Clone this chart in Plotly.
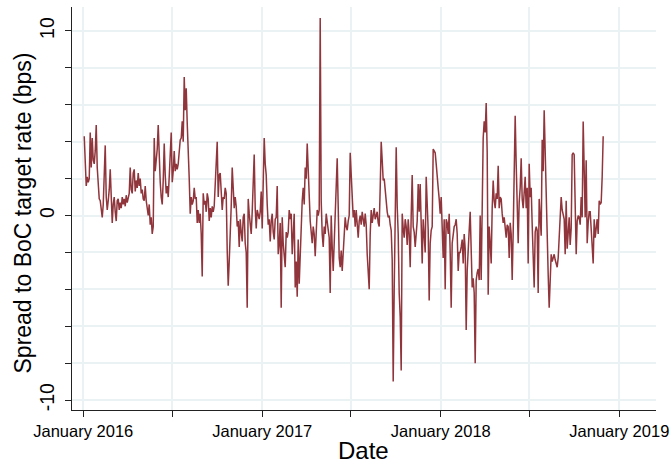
import pandas as pd
import plotly.graph_objects as go

start_date = "2016-01-03"
end_date = "2018-11-29"

spread_bps = [
    4.3, 2.6, 1.6, 2.1, 1.8, 2.0, 4.5, 2.6, 4.2, 3.0, 2.8, 3.5, 4.9, 2.6, 1.5, 0.9, 0.8, 0.3, -0.1, 0.6,
    2.0, 3.8, 1.0, 0.3, 0.8, 1.4, 2.5, 0.5, -0.4, 0.6, 1.0, 0.2, -0.3, 0.8, 0.9, 0.3, 0.7, 0.4, 1.0, 0.6,
    0.9, 0.5, 1.1, 0.7, 0.9, 1.2, 2.6, 1.4, 1.2, 2.3, 2.5, 1.3, 1.9, 1.5, 2.3, 1.6, 2.0, 1.2, 1.4, 0.9,
    0.8, 1.6, 0.8, 0.2, 0.0, 0.6, -0.5, -0.1, -1.0, -0.6, 4.2, 2.4, 3.1, 3.6, 4.9, 3.1, 1.8, 1.0, 0.6, 1.9,
    3.9, 2.2, 1.2, 1.6, 1.0, 2.1, 3.2, 4.5, 1.8, 2.4, 3.5, 2.4, 2.8, 2.5, 2.8, 3.4, 4.1, 4.2, 5.1, 4.0,
    7.5, 5.7, 6.9, 5.0, 3.9, 2.0, 0.1, 1.0, 0.6, 0.8, 1.5, 0.9, 1.0, -0.4, 0.3, -0.4, 0.1, -1.0, -3.3, 1.2,
    0.6, 0.8, 0.2, 1.2, 0.9, -0.3, 0.4, -0.1, 0.5, 0.2, 0.5, 1.5, 3.0, 4.0, 1.0, 2.2, 2.3, 0.8, 0.3, 1.0,
    0.9, 1.5, 1.2, -1.9, -3.8, -2.5, -1.2, 0.5, 2.6, 1.6, 0.4, 1.0, 0.5, -0.6, -0.3, -1.7, -0.2, -0.9, -1.4, -0.1,
    0.1, -1.5, -2.0, -5.0, 0.9, 0.1, -0.5, -1.0, 0.2, 1.5, 3.3, 0.4, -0.7, 0.3, 0.0, -0.2, 0.2, 1.3, -0.7, 1.5,
    4.2, 2.8, 2.2, 0.6, -0.5, -0.2, -1.4, -0.3, 0.1, -0.9, -1.3, -0.2, -0.1, 1.6, -2.1, -1.5, -0.4, -5.0, -0.1, -1.5,
    -2.0, -2.8, -0.9, -1.2, -0.9, 0.3, -0.2, 0.1, -2.1, -0.8, 0.1, -3.9, -2.5, -4.4, -1.3, -3.7, -2.0, -0.5, 0.8, 1.5,
    0.6, 2.6, 2.0, 3.9, 2.5, 0.5, -0.3, -0.9, -1.5, -0.6, -1.0, -2.2, -0.9, 0.3, 0.0, 0.3, 10.7, 0.8, -1.0, -1.7,
    -0.6, -1.0, 0.1, -0.3, -0.7, -1.2, -4.2, 0.0, -1.7, -3.0, -1.5, -0.2, 1.0, 3.1, 0.5, -2.3, -2.8, -1.9, -3.0, -2.2,
    -1.3, -0.1, -0.6, -0.8, -0.3, 0.0, 3.4, 2.2, 1.0, -0.1, 0.3, -0.6, 0.3, -0.4, -1.2, -0.3, 0.0, -0.5, 0.2, -0.2,
    -0.6, 0.1, -0.5, -2.1, -3.0, -4.0, -1.0, 0.3, -0.4, 0.0, 0.4, -0.2, 0.0, 0.2, -0.4, -0.6, 1.5, 4.0, 3.0, 1.9,
    2.0, 1.2, 0.4, 0.2, -0.1, 0.0, -0.5, -0.8, -2.4, -9.0, -4.0, -0.5, 3.7, 0.5, -1.0, -4.2, -5.5, -8.4, 0.1, -0.7,
    -1.2, -0.2, -0.6, -1.6, -0.2, -1.0, -2.8, 0.0, 2.2, -0.6, -0.9, -1.7, -0.8, -0.3, 1.7, 0.2, 1.7, -1.5, -2.6, -0.2,
    -0.9, -2.0, 2.1, 0.5, -0.8, -4.6, -1.5, -0.8, -0.6, 3.6, 3.5, 3.4, 2.8, 1.8, 1.5, 0.9, 0.1, 1.0, -0.3, -2.3,
    -0.2, -4.0, -0.2, -0.4, -1.0, 0.1, -2.0, -5.0, -1.5, -1.0, -0.6, -0.5, -0.2, -1.0, -3.0, -2.0, -2.0, -1.7, -1.3, -2.6,
    -1.0, -1.8, -6.2, -3.0, -1.5, -0.8, 0.2, -1.7, -3.9, -3.4, -4.2, -8.0, -3.5, -3.1, -2.9, -3.5, 0.0, -3.5, 0.5, 4.2,
    5.1, 4.5, 6.1, 3.4, -4.3, -0.6, -1.5, -2.6, 0.4, 1.9, 0.8, 0.4, 1.2, 0.9, 2.7, 0.4, 1.0, 0.9, 0.1, -0.4,
    -0.1, -0.7, -1.2, -0.5, -0.6, -2.3, -0.4, -1.0, -3.5, -0.9, 2.5, 5.4, 2.8, 0.5, -1.5, 0.7, 1.5, 3.1, 0.9, 0.4,
    1.2, 2.1, 0.4, 1.5, -2.6, 2.8, 1.0, 1.5, -0.5, -2.0, -3.9, -0.9, -0.6, -0.8, -4.2, 0.9, -0.6, -1.1, 4.1, 2.4,
    5.7, 3.0, 2.0, -2.3, -3.2, -5.0, -2.7, -2.1, -2.5, -2.3, -2.1, -2.4, -2.6, -2.8, -2.3, -1.4, 0.1, 1.0, 0.3, 0.0,
    -0.2, -2.1, 0.8, -1.8, -0.5, -0.1, -1.6, -0.7, 3.3, 3.4, 3.3, 0.0, -2.1, -0.3, 0.0, -0.1, -0.5, 1.0, -0.1, 5.1,
    1.5, -0.1, 3.0, -1.5, -0.4, 0.2, 0.2, -0.9, -1.6, -2.6, -0.2, -1.2, -0.7, -0.2, -1.0, 0.8, 0.6, 0.7, 2.1, 4.3,
]

x_tick_dates = ["2016-01-01", "2016-07-01", "2017-01-01", "2017-07-01",
                "2018-01-01", "2018-07-01", "2019-01-01"]
x_tick_labels = ["January 2016", "", "January 2017", "", "January 2018", "", "January 2019"]
y_tick_values = [-10, -8, -6, -4, -2, 0, 2, 4, 6, 8, 10]
y_tick_labels = ["-10", "", "", "", "", "0", "", "", "", "", "10"]
x_title = "Date"
y_title = "Spread to BoC target rate (bps)"

dates = pd.date_range(start_date, end_date, periods=len(spread_bps))

FONT = "Liberation Sans, Arial, Helvetica, sans-serif"
GRID = "#EAF2F3"
AXIS = "#222222"

fig = go.Figure()
fig.add_trace(go.Scatter(
    x=dates, y=spread_bps, mode="lines",
    line=dict(color="#90353B", width=1.5),
    showlegend=False, hoverinfo="skip",
))

fig.update_layout(
    width=671, height=462,
    margin=dict(l=72, r=15, t=7, b=52),
    paper_bgcolor="white", plot_bgcolor="white",
    font=dict(family=FONT, color="black"),
)
fig.update_xaxes(
    range=["2015-12-09", "2019-03-17"],
    tickvals=x_tick_dates, ticktext=x_tick_labels,
    tickfont=dict(size=16.5), ticks="outside", ticklen=6, tickcolor=AXIS,
    showline=True, linecolor=AXIS, linewidth=1,
    showgrid=True, gridcolor=GRID, gridwidth=1.5,
    zeroline=False, automargin=False,
)
fig.update_yaxes(
    range=[-10.54, 11.3],
    tickvals=y_tick_values, ticktext=y_tick_labels,
    tickangle=-90, tickfont=dict(size=19.5), ticklabelstandoff=3,
    ticks="outside", ticklen=6, tickcolor=AXIS,
    showline=True, linecolor=AXIS, linewidth=1,
    showgrid=True, gridcolor=GRID, gridwidth=1.5,
    zeroline=False, automargin=False,
)

fig.add_annotation(
    text=x_title, xref="paper", yref="paper", x=(363 - 72) / 584, y=0,
    xanchor="center", yanchor="middle", yshift=-40, showarrow=False,
    font=dict(size=24, family=FONT, color="black"),
)
fig.add_annotation(
    text=y_title, xref="paper", yref="paper", x=0, y=0.5,
    xanchor="center", yanchor="middle", xshift=-50, yshift=-5,
    textangle=-90, showarrow=False,
    font=dict(size=23, family=FONT, color="black"),
)

fig.write_html("out.html", config={"displayModeBar": False},
               post_script="document.body.style.margin='0';")
